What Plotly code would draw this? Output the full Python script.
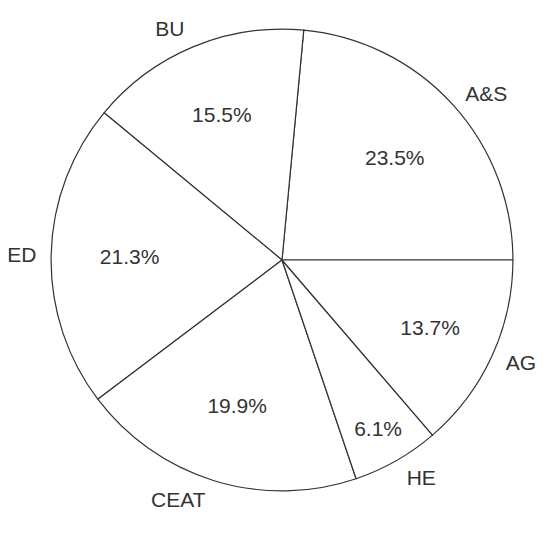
import plotly.graph_objects as go

labels = ["A&S", "BU", "ED", "CEAT", "HE", "AG"]
percents = [23.5, 15.5, 21.3, 19.9, 6.1, 13.7]

font_family = "Liberation Sans, Arial, sans-serif"
text_color = "#333333"

# first slice (A&S) begins at 3 o'clock and runs counterclockwise
start_rotation = 90 - percents[0] * 360 / sum(percents)

common = dict(
    labels=labels,
    values=percents,
    sort=False,
    direction="counterclockwise",
    rotation=start_rotation,
    hoverinfo="skip",
    showlegend=False,
    automargin=False,
)

pie_domain = dict(x=[0.04, 0.96], y=[0.04, 0.96])
label_domain = dict(x=[0.022, 0.978], y=[0.022, 0.978])
clear = ["rgba(0,0,0,0)"] * len(labels)

fig = go.Figure()
# the drawn pie (outlines only)
fig.add_trace(go.Pie(
    **common,
    domain=pie_domain,
    marker=dict(colors=["white"] * len(labels), line=dict(color="#333333", width=1.2)),
    textinfo="none",
))
# percentages inside the slices
fig.add_trace(go.Pie(
    **common,
    domain=pie_domain,
    hole=0.32,
    marker=dict(colors=clear, line=dict(width=0)),
    texttemplate="%{value}%",
    textposition="inside",
    insidetextorientation="horizontal",
    textfont=dict(family=font_family, size=21, color=text_color),
))
# category names, outside a slightly larger invisible pie
fig.add_trace(go.Pie(
    **common,
    domain=label_domain,
    marker=dict(colors=clear, line=dict(width=0)),
    texttemplate="%{label}",
    textposition="outside",
    outsidetextfont=dict(family=font_family, size=21, color=text_color),
))

fig.update_layout(
    width=548,
    height=533,
    margin=dict(l=23, r=23, t=1, b=30, autoexpand=False),
    paper_bgcolor="white",
    plot_bgcolor="white",
)

fig.write_html("out.html")
